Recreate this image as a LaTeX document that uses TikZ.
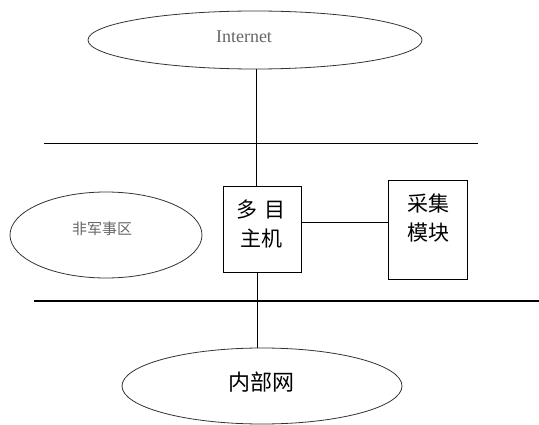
\documentclass[tikz,border=0pt]{standalone}
\usepackage{fontspec}
\setmainfont{Liberation Serif}
\newfontfamily\cjk{Noto Sans CJK SC}
\usetikzlibrary{shapes.geometric}
\begin{document}
\begin{tikzpicture}[x=1pt,y=-1pt,
  oval/.style={ellipse,draw=black!80,line width=0.8pt,inner sep=0pt},
  hostbox/.style={draw=black,line width=1pt,inner sep=0pt},
  ln/.style={draw=black,line width=0.8pt},
  bus/.style={draw=black,line width=1.3pt},
  cjklabel/.style={font=\cjk\fontsize{21}{29}\selectfont,inner sep=0pt},
  graylabel/.style={text=black!60,inner sep=0pt}]
\useasboundingbox (0,0) rectangle (539,425);
% ellipses
\node[oval,minimum width=334pt,minimum height=58pt] (inet) at (255,40) {};
\node[graylabel,font=\fontsize{18}{22}\selectfont] (inettxt) at (244,37) {Internet};
\node[oval,minimum width=192pt,minimum height=86pt] (dmz) at (106,235) {};
\node[graylabel,font=\cjk\fontsize{15}{18}\selectfont] (dmztxt) at (102,229) {非军事区};
\node[oval,minimum width=280pt,minimum height=76pt] (lan) at (262,386) {};
\node[cjklabel,font=\cjk\fontsize{22}{26}\selectfont] (lantxt) at (261,382) {内部网};
% horizontal lines
\coordinate (t1) at (44,143);
\coordinate (t2) at (478,143);
\coordinate (b1) at (34,301);
\coordinate (b2) at (539,301);
\draw[ln] (t1) -- (t2);
\draw[bus] (b1) -- (b2);
% boxes
\node[hostbox,minimum width=78pt,minimum height=86pt] (host) at (262,230) {};
\node[cjklabel,align=center] (hosttxt) at (261,224) {多\hspace{0.3em}目\\主机};
\node[hostbox,minimum width=79pt,minimum height=99pt] (acq) at (428,230.5) {};
\node[cjklabel,align=center] (acqtxt) at (428,218) {采集\\模块};
% connectors
\draw[ln] (inet.south -| 256,0) -- (host.north -| 256,0);
\draw[ln] (host.south -| 257,0) -- (lan.north -| 257,0);
\draw[ln] (host.east |- 0,222) -- (acq.west |- 0,222);
\end{tikzpicture}
\end{document}
